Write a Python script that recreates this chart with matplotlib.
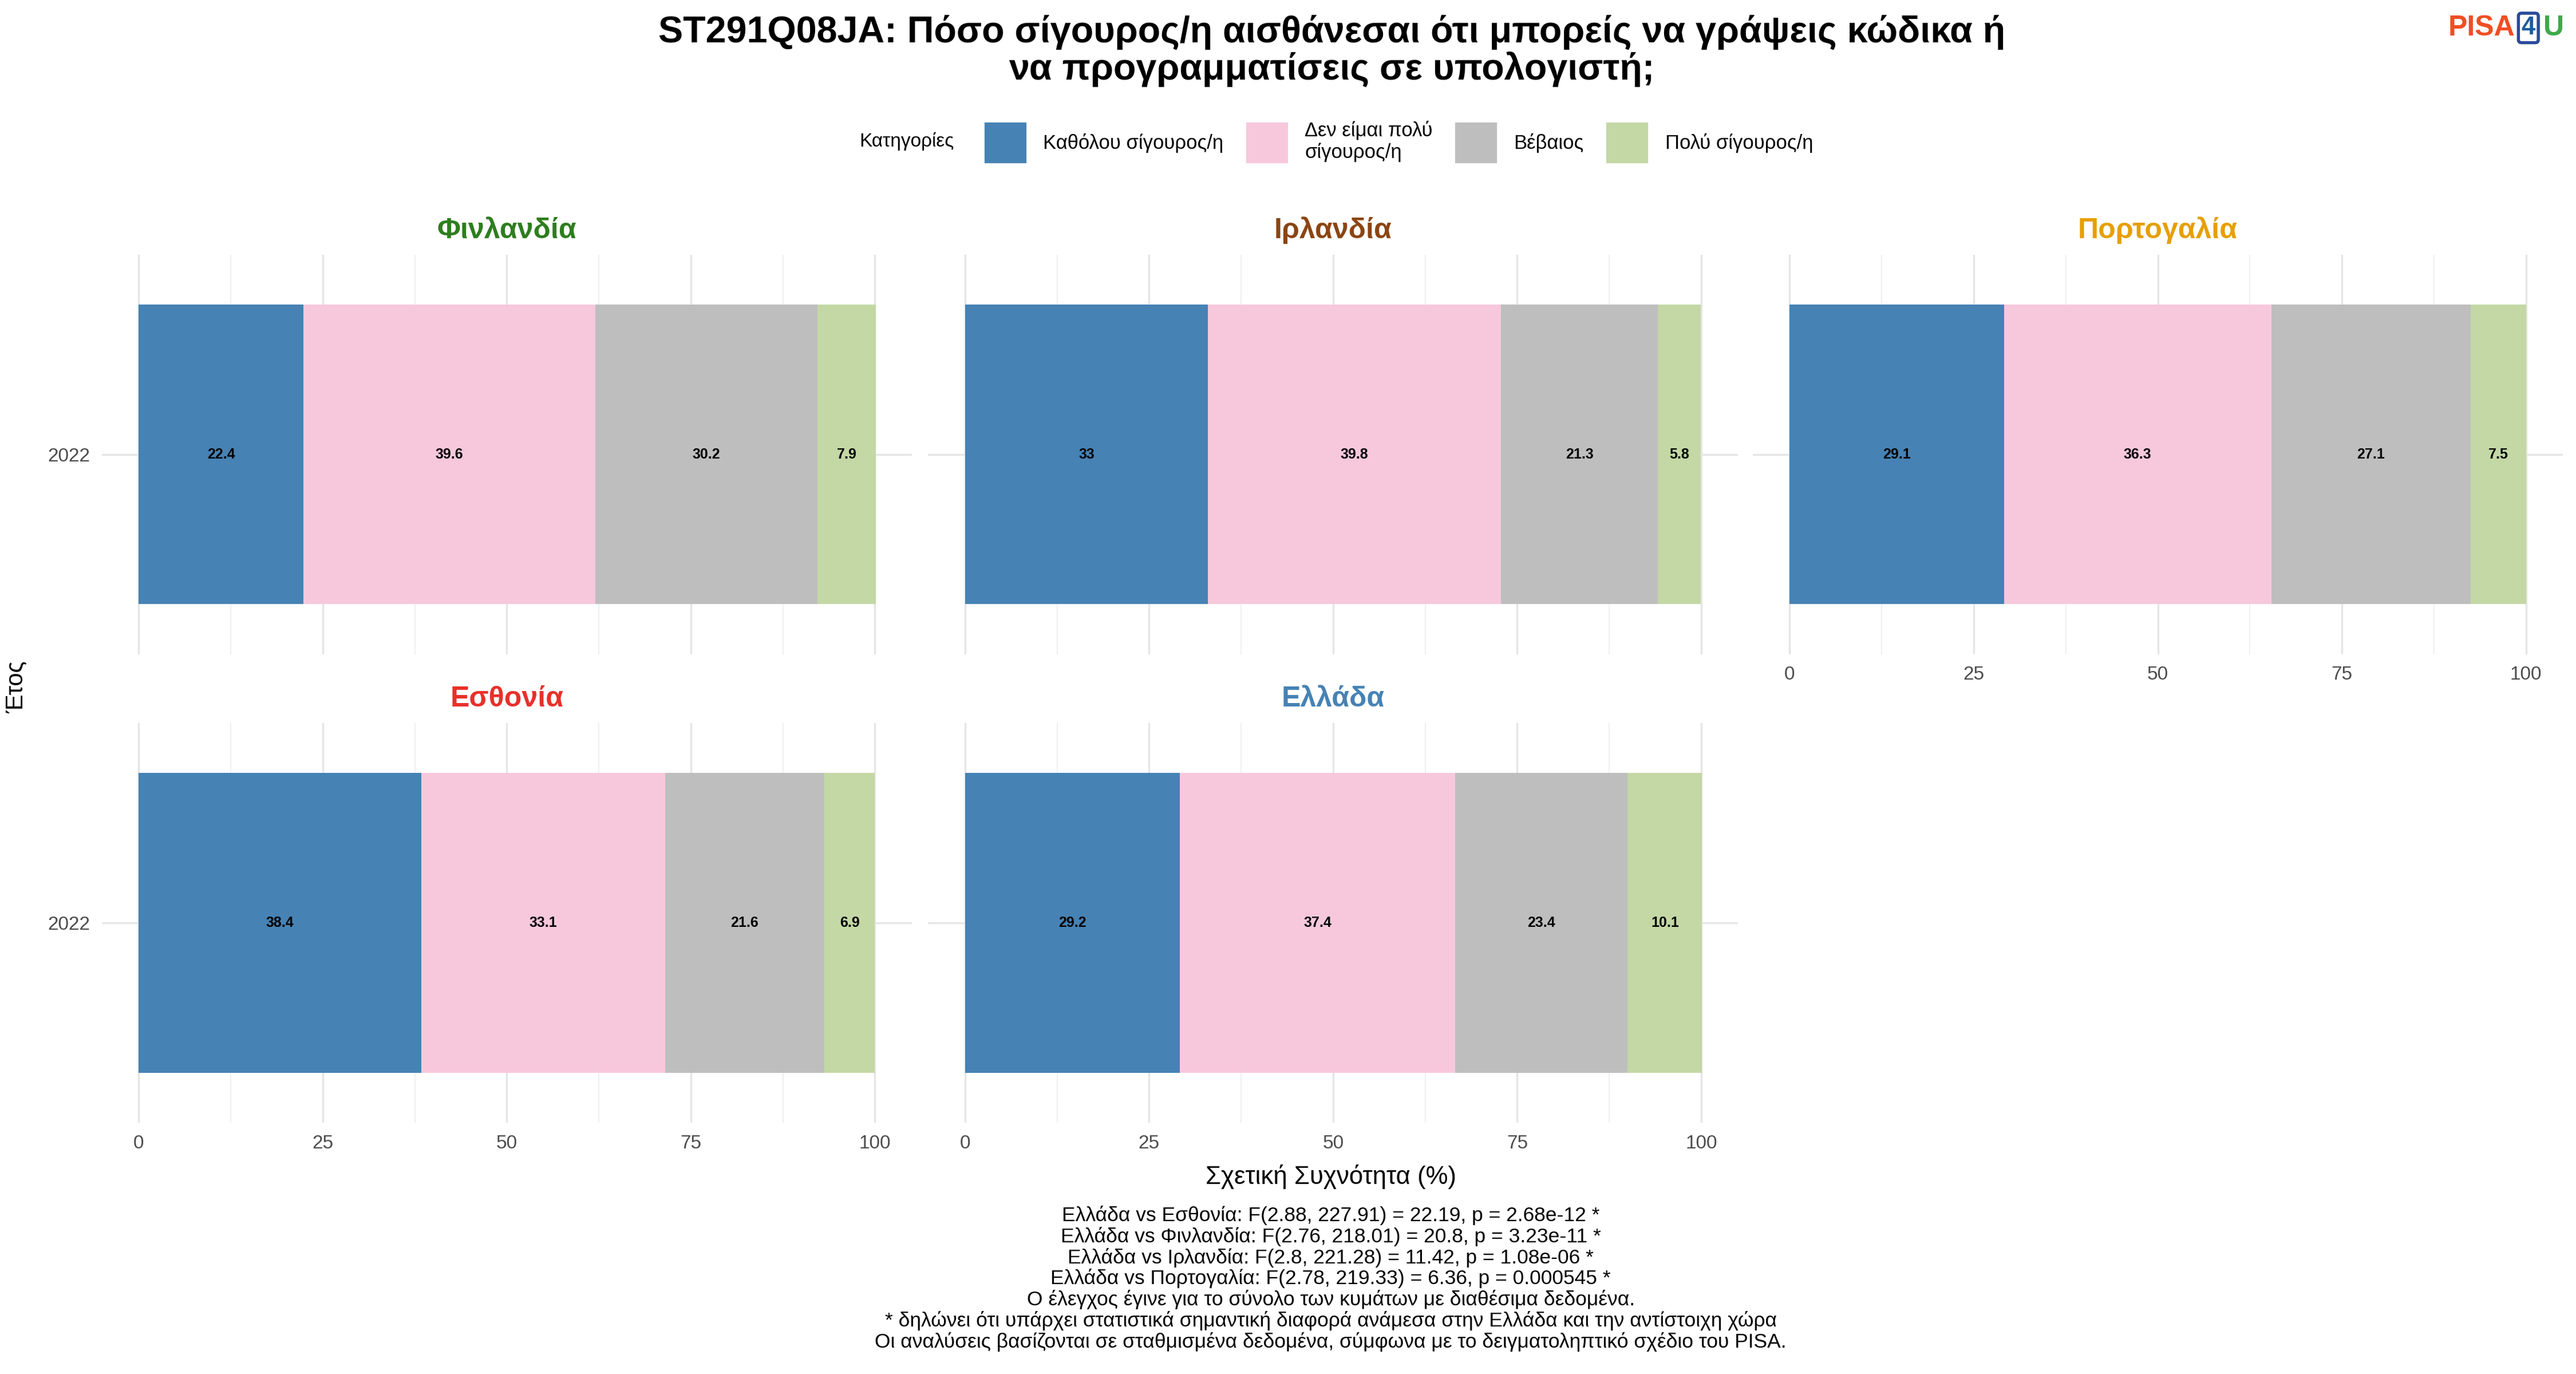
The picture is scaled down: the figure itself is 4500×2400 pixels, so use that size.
import matplotlib
matplotlib.use("Agg")
import matplotlib.pyplot as plt
from matplotlib.patches import Patch

plt.rcParams['font.family'] = ['Liberation Sans', 'DejaVu Sans']

countries = ["Φινλανδία", "Ιρλανδία", "Πορτογαλία", "Εσθονία", "Ελλάδα"]
country_colors = ["#2E7D1F", "#8B4513", "#E69F00", "#E8302A", "#4682B4"]
categories = ["Καθόλου σίγουρος/η", "Δεν είμαι πολύ\nσίγουρος/η", "Βέβαιος", "Πολύ σίγουρος/η"]
cat_colors = ["#4682B4", "#F7C8DC", "#BEBEBE", "#C3D8A5"]
years = ["2022"]
values = {
    "Φινλανδία": [22.4, 39.6, 30.2, 7.9],
    "Ιρλανδία": [33, 39.8, 21.3, 5.8],
    "Πορτογαλία": [29.1, 36.3, 27.1, 7.5],
    "Εσθονία": [38.4, 33.1, 21.6, 6.9],
    "Ελλάδα": [29.2, 37.4, 23.4, 10.1],
}
footer = [
    "Ελλάδα vs Εσθονία: F(2.88, 227.91) = 22.19, p = 2.68e-12 *",
    "Ελλάδα vs Φινλανδία: F(2.76, 218.01) = 20.8, p = 3.23e-11 *",
    "Ελλάδα vs Ιρλανδία: F(2.8, 221.28) = 11.42, p = 1.08e-06 *",
    "Ελλάδα vs Πορτογαλία: F(2.78, 219.33) = 6.36, p = 0.000545 *",
    "Ο έλεγχος έγινε για το σύνολο των κυμάτων με διαθέσιμα δεδομένα.",
    "* δηλώνει ότι υπάρχει στατιστικά σημαντική διαφορά ανάμεσα στην Ελλάδα και την αντίστοιχη χώρα",
    "Οι αναλύσεις βασίζονται σε σταθμισμένα δεδομένα, σύμφωνα με το δειγματοληπτικό σχέδιο του PISA.",
]

W, H = 1568, 836
fig = plt.figure(figsize=(15, 8), dpi=300)

lefts = [62, 565, 1067]
pw = 493
rows = [(155, 398), (440, 683)]
positions = [(0, 0), (0, 1), (0, 2), (1, 0), (1, 1)]
show_xlab = [False, False, True, True, True]

for i, c in enumerate(countries):
    r, col = positions[i]
    top, bot = rows[r]
    ax = fig.add_axes([lefts[col] / W, 1 - bot / H, pw / W, (bot - top) / H])
    left = 0
    for v, cc in zip(values[c], cat_colors):
        ax.barh(1, v, left=left, height=0.9, color=cc, zorder=3)
        ax.text(left + v / 2, 1, f"{v:g}", ha="center", va="center",
                fontsize=6, fontweight="bold", zorder=4)
        left += v
    ax.set_xlim(-5, 105)
    ax.set_ylim(0.4, 1.6)
    ax.set_xticks([0, 25, 50, 75, 100])
    ax.set_xticks([12.5, 37.5, 62.5, 87.5], minor=True)
    ax.set_yticks([1])
    ax.set_yticklabels(years if col == 0 else [])
    if not show_xlab[i]:
        ax.set_xticklabels([])
    ax.grid(True, which="major", color="#E5E5E5", lw=0.8, zorder=0)
    ax.grid(True, which="minor", axis="x", color="#F0F0F0", lw=0.5, zorder=0)
    ax.tick_params(which="both", length=0, labelsize=8, colors="#4D4D4D", pad=5)
    for s in ax.spines.values():
        s.set_visible(False)
    ax.set_title(c, color=country_colors[i], fontsize=12, fontweight="bold", pad=7)

fig.text(0.517, 1 - 31 / H, "ST291Q08JA: Πόσο σίγουρος/η αισθάνεσαι ότι μπορείς να γράψεις κώδικα ή\nνα προγραμματίσεις σε υπολογιστή;",
         ha="center", va="center", fontsize=15.5, fontweight="bold", linespacing=1.05)

handles = [Patch(color=cc) for cc in cat_colors]
fig.text(523 / W, 1 - 86 / H, "Κατηγορίες", ha="left", va="center", fontsize=8)
fig.legend(handles, categories, loc="center left", bbox_to_anchor=(594 / W, 1 - 86 / H), ncol=4,
           frameon=False, fontsize=8.3, handlelength=2.0, handleheight=2.6,
           columnspacing=1.2, handletextpad=0.9, borderpad=0)

fig.text(10 / W, 1 - 418 / H, "Έτος", rotation=90, ha="center", va="center", fontsize=10)
fig.text(810 / W, 1 - 716 / H, "Σχετική Συχνότητα (%)", ha="center", va="center", fontsize=10.5)
fig.text(810 / W, 1 - 778 / H, "\n".join(footer), ha="center", va="center", fontsize=8.5, linespacing=1.1)

fig.text(1490 / W, 1 - 17 / H, "PISA", color="#F04E23", fontsize=12, fontweight="bold", ha="left", va="center")
fig.text(1539 / W, 1 - 17 / H, "4", color="#1F5C99", fontsize=10.5, fontweight="bold", ha="center", va="center",
         bbox=dict(boxstyle="round,pad=0.12", fc="white", ec="#2B4A9A", lw=1.3))
fig.text(1548 / W, 1 - 17 / H, "U", color="#3DAA48", fontsize=12, fontweight="bold", ha="left", va="center")

fig.savefig("out.png", dpi=300, facecolor="white")
